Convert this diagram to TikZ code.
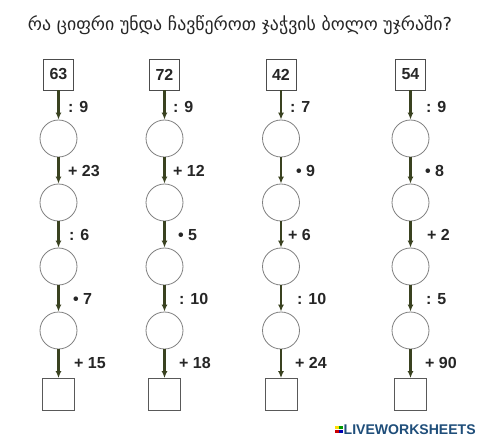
\documentclass[tikz,border=0pt]{standalone}
\usepackage{fontspec}
\usepackage{graphicx}
\setmainfont{Liberation Sans}
\newfontfamily\geofont{DejaVu Sans}
\usetikzlibrary{arrows.meta}
\definecolor{arrcol}{HTML}{3A4220}
\definecolor{lwblue}{HTML}{1F4E7A}
\begin{document}
\begin{tikzpicture}[x=1pt,y=-1pt,
  numbox/.style={draw=black!70, line width=0.8pt, minimum width=30pt, minimum height=31pt, inner sep=0pt, font=\bfseries\fontsize{16}{16}\selectfont, text=black!85},
  endbox/.style={draw=black!65, line width=0.8pt, minimum size=32pt, inner sep=0pt},
  circ/.style={circle, draw=black!50, line width=0.8pt, minimum size=37pt, inner sep=0pt},
  link/.style={draw=arrcol, line width=2.2pt, -{Latex[length=7pt,width=6pt]}},
  oplabel/.style={anchor=west, font=\bfseries\fontsize{16}{16}\selectfont, text=black!85, inner sep=0pt},
  titlestyle/.style={text=black!85, inner sep=0pt},
  logotext/.style={text=lwblue, inner sep=0pt, anchor=west, font=\bfseries}
]
\useasboundingbox (0,0) rectangle (480,436);
\fill[white] (0,0) rectangle (480,436);

\node[titlestyle] (title) at (240,25) {\resizebox{424pt}{!}{\geofont რა ციფრი უნდა ჩავწეროთ ჯაჭვის ბოლო უჯრაში?}};

\foreach \cx/\topn/\ops [count=\k] in {
  58.5/63/{9.5/: 9,9.5/+ 23,10.5/: 6,14.5/• 7,15.5/+ 15},
  164.5/72/{8.5/: 9,8.5/+ 12,13.5/• 5,14.5/: 10,14.5/+ 18},
  281/42/{9/: 7,15/• 9,7/+ 6,16/: 10,14/+ 24},
  410.5/54/{15.5/: 9,14.5/• 8,16.5/+ 2,15.5/: 5,14.5/+ 90}} {
  \node[numbox] (c\k-0) at (\cx,74.5) {\topn};
  \foreach \j in {1,...,4} {
    \node[circ] (c\k-\j) at (\cx,{74.5+64*\j}) {};
  }
  \node[endbox] (c\k-5) at (\cx,394.5) {};
  \foreach \dx/\t [count=\j, evaluate=\j as \jm using int(\j-1)] in \ops {
    \draw[link] (c\k-\jm.south) -- (c\k-\j.north);
    \node[oplabel] (l\k-\j) at ({\cx+\dx},{74.5+64*\j-31.5}) {\t};
  }
}

% logo
\fill[yellow!80!orange] (335,425.5) rectangle (338.5,429);
\fill[green!60!black] (339,425.5) rectangle (342.5,429);
\fill[red!80!black] (335,429.5) rectangle (338.5,433);
\fill[blue!70!black] (339,429.5) rectangle (342.5,433);
\node[logotext] (logo) at (343.5,429.3) {\resizebox{132pt}{!}{LIVEWORKSHEETS}};
\end{tikzpicture}
\end{document}
